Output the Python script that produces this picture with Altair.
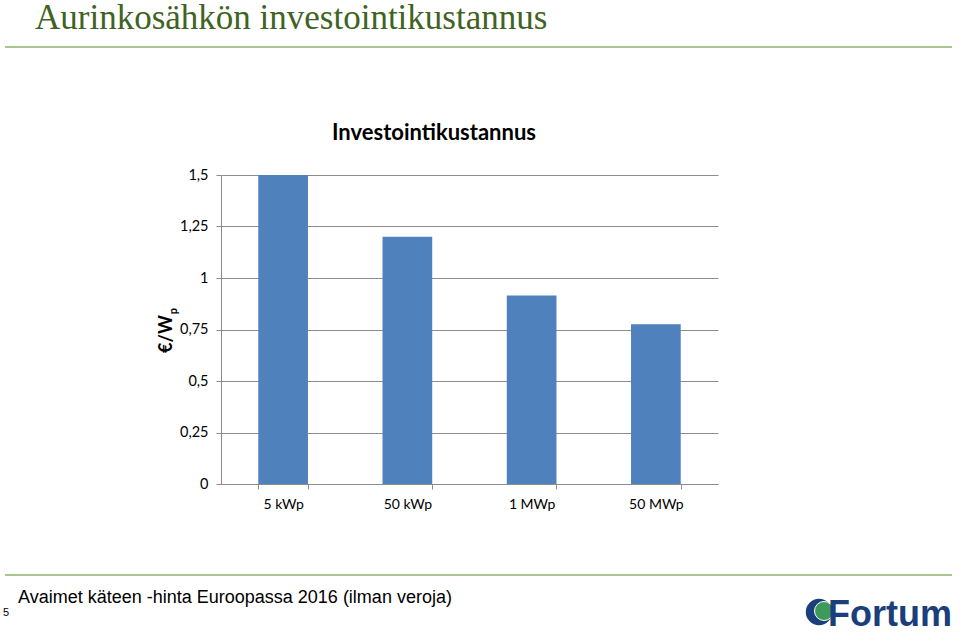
import altair as alt
import pandas as pd

# ---- data ----
categories = ["5 kWp", "50 kWp", "1 MWp", "50 MWp"]
costs = [1.5, 1.2, 0.915, 0.775]
y_ticks = [0, 0.25, 0.5, 0.75, 1, 1.25, 1.5]

page_title = "Aurinkosähkön investointikustannus"
chart_title = "Investointikustannus"
footer = "Avaimet käteen -hinta Euroopassa 2016 (ilman veroja)"
page_no = "5"
logo_text = "Fortum"

df = pd.DataFrame({"cat": categories, "cost": costs})
one = pd.DataFrame({"a": [0]})

L, T = 221, 175  # plot-area origin in page pixels
W, H = 497, 309

def px(x):
    return x - L

def py(y):
    return y - T

GRID = "#8c8c8c"

bars = alt.Chart(df).mark_bar(color="#4F81BD").encode(
    x=alt.X(
        "cat:N",
        sort=categories,
        scale=alt.Scale(paddingInner=0.6, paddingOuter=0.3),
        axis=alt.Axis(
            title=None,
            labelAngle=0,
            labelFont="Lato",
            labelFontSize=14,
            labelColor="#000000",
            labelPadding=8,
            domainColor=GRID,
            tickColor=GRID,
            tickSize=5,
            tickBand="extent",
            grid=False,
        ),
    ),
    y=alt.Y(
        "cost:Q",
        scale=alt.Scale(domain=[0, 1.5], nice=False),
        axis=alt.Axis(
            title=None,
            values=y_ticks,
            labelExpr="replace(toString(datum.value), '.', ',')",
            labelFont="Lato",
            labelFontSize=14.5,
            labelColor="#000000",
            labelPadding=8,
            domainColor=GRID,
            tickColor=GRID,
            tickSize=5,
            gridColor=GRID,
            gridWidth=1,
        ),
    ),
)

def txt(text, x, y, **kw):
    return alt.Chart(one).mark_text(text=text, **kw).encode(
        x=alt.value(px(x)), y=alt.value(py(y))
    )

def hline(y, x1, x2, color, w):
    return alt.Chart(one).mark_rule(color=color, strokeWidth=w).encode(
        x=alt.value(px(x1)), x2=alt.value(px(x2)), y=alt.value(py(y))
    )

layers = [
    bars,
    txt(page_title, 35, 1, font="Liberation Serif", fontSize=35, color="#3F6322",
        align="left", baseline="top"),
    hline(47, 5, 952, "#A9C68F", 2),
    txt(chart_title, 434, 133, font="Lato", fontSize=22, fontWeight="bold",
        color="#000000", align="center", baseline="middle"),
    txt("€/W", 167, 334, font="Lato", fontSize=18, fontWeight="bold",
        color="#000000", angle=270, align="center", baseline="middle"),
    txt("p", 174, 311, font="Lato", fontSize=11, fontWeight="bold",
        color="#000000", angle=270, align="center", baseline="middle"),
    hline(575, 5, 952, "#A9C68F", 2),
    txt(footer, 18, 603, font="Liberation Sans", fontSize=18, color="#000000",
        align="left", baseline="alphabetic"),
    txt(page_no, 3, 616, font="Liberation Sans", fontSize=11, color="#000000",
        align="left", baseline="alphabetic"),
    alt.Chart(one).mark_point(filled=True, shape="circle", size=700, color="#1B3F7A",
                              opacity=1).encode(x=alt.value(px(819)), y=alt.value(py(612))),
    alt.Chart(one).mark_point(filled=True, shape="circle", size=360, color="#3E9A5A",
                              opacity=1, stroke="#ffffff", strokeWidth=1).encode(
        x=alt.value(px(824)), y=alt.value(py(611))),
    txt(logo_text, 952, 626, font="Liberation Sans", fontSize=36, fontWeight="bold",
        color="#1B3F7A", align="right", baseline="alphabetic"),
]

chart = alt.layer(*layers).properties(
    width=W,
    height=H,
    autosize=alt.AutoSizeParams(type="none"),
    padding={"left": L, "top": T, "right": 960 - L - W, "bottom": 633 - T - H},
    background="#ffffff",
).configure_view(stroke=None)

chart.save("out.html", embed_options={"renderer": "svg", "actions": False})
